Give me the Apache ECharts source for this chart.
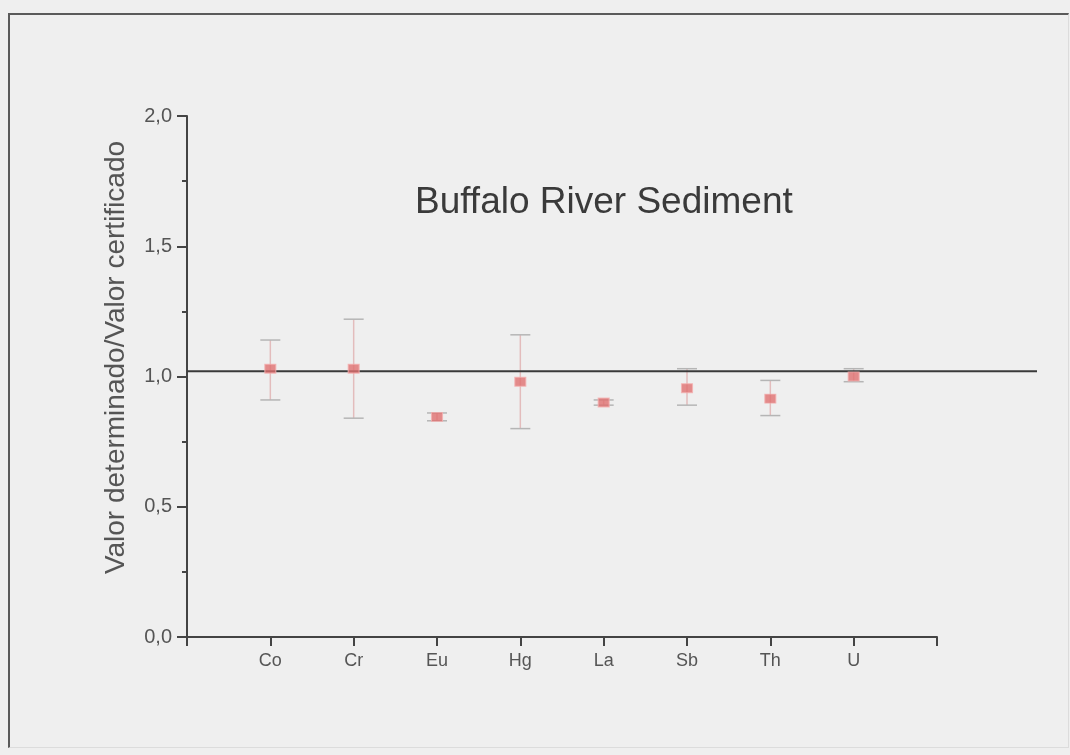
<!DOCTYPE html>
<html>
<head>
<meta charset="utf-8">
<script src="https://cdn.jsdelivr.net/npm/echarts@6/dist/echarts.min.js"></script>
<style>
  html, body { margin: 0; padding: 0; background: #efefef; }
  #chart { width: 1070px; height: 755px; }
  #frame {
    position: absolute; left: 8px; top: 13px; width: 1058px; height: 732px;
    border-top: 2px solid #5a5a5a; border-left: 2px solid #5a5a5a;
    border-right: 1px solid #dcdcdc; border-bottom: 1px solid #dcdcdc;
    pointer-events: none;
  }
</style>
</head>
<body>
<div id="chart"></div>
<div id="frame"></div>
<script>
// element labels on the x axis (positions 1..8)
const categories = ['Co', 'Cr', 'Eu', 'Hg', 'La', 'Sb', 'Th', 'U'];
// determined / certified value
const ratio = [1.03, 1.03, 0.845, 0.98, 0.90, 0.955, 0.915, 1.00];
// error bar ends
const lower = [0.91, 0.84, 0.83, 0.80, 0.89, 0.89, 0.85, 0.98];
const upper = [1.14, 1.22, 0.86, 1.16, 0.91, 1.03, 0.985, 1.03];
// horizontal reference line
const refLine = 1.02;
const yTicks = [0, 0.5, 1.0, 1.5, 2.0];

const chart = echarts.init(document.getElementById('chart'), null, { renderer: 'canvas' });

const points = ratio.map((v, i) => [i + 1, v]);
const bars = ratio.map((v, i) => [i + 1, lower[i], upper[i]]);

function fmtComma(v) {
    return v.toFixed(1).replace('.', ',');
}

const option = {
    backgroundColor: '#efefef',
    animation: false,
    textStyle: { fontFamily: 'Liberation Sans, Arial, sans-serif' },
    title: {
        text: 'Buffalo River Sediment',
        left: 410,
        top: 179,
        textStyle: { fontSize: 37, fontWeight: 'normal', color: '#3a3a3a' }
    },
    grid: [
        { left: 187, right: 133, top: 116, bottom: 118 },
        { left: 187, right: 33, top: 116, bottom: 118 }
    ],
    xAxis: [
        {
            type: 'value',
            gridIndex: 0,
            min: 0,
            max: 9,
            interval: 1,
            axisLine: { lineStyle: { color: '#444', width: 2 } },
            axisTick: { show: true, inside: false, length: 9, lineStyle: { color: '#444', width: 2 } },
            axisLabel: {
                margin: 15,
                fontSize: 18,
                color: '#555',
                formatter: v => categories[v - 1] || ''
            },
            splitLine: { show: false }
        },
        { type: 'value', gridIndex: 1, min: 0, max: 1, show: false }
    ],
    yAxis: [
        {
            type: 'value',
            gridIndex: 0,
            min: yTicks[0],
            max: yTicks[yTicks.length - 1],
            interval: 0.5,
            name: 'Valor determinado/Valor certificado',
            nameLocation: 'middle',
            nameGap: 57,
            nameTextStyle: { fontSize: 28, color: '#555', padding: [0, 0, 0, 38] },
            axisLine: { show: true, lineStyle: { color: '#444', width: 2 } },
            axisTick: { show: true, inside: false, length: 10, lineStyle: { color: '#444', width: 2 } },
            minorTick: { show: true, splitNumber: 2, length: 5, lineStyle: { color: '#444', width: 2 } },
            axisLabel: { margin: 15, fontSize: 20, color: '#555', formatter: fmtComma },
            splitLine: { show: false }
        },
        { type: 'value', gridIndex: 1, min: yTicks[0], max: yTicks[yTicks.length - 1], show: false }
    ],
    series: [
        {
            type: 'line',
            xAxisIndex: 1,
            yAxisIndex: 1,
            data: [[0, refLine], [1, refLine]],
            symbol: 'none',
            lineStyle: { color: '#3a3a3a', width: 2 },
            z: 3
        },
        {
            type: 'custom',
            xAxisIndex: 0,
            yAxisIndex: 0,
            data: bars,
            renderItem: function (params, api) {
                const x = api.value(0);
                const lo = api.coord([x, api.value(1)]);
                const hi = api.coord([x, api.value(2)]);
                const hw = 10;
                return {
                    type: 'group',
                    children: [
                        { type: 'line', shape: { x1: lo[0], y1: lo[1], x2: hi[0], y2: hi[1] },
                          style: { stroke: '#e3bcbc', lineWidth: 1.5 } },
                        { type: 'line', shape: { x1: lo[0] - hw, y1: lo[1], x2: lo[0] + hw, y2: lo[1] },
                          style: { stroke: '#b5b5b5', lineWidth: 1.5 } },
                        { type: 'line', shape: { x1: hi[0] - hw, y1: hi[1], x2: hi[0] + hw, y2: hi[1] },
                          style: { stroke: '#b5b5b5', lineWidth: 1.5 } }
                    ]
                };
            },
            z: 2
        },
        {
            type: 'scatter',
            xAxisIndex: 0,
            yAxisIndex: 0,
            data: points,
            symbol: 'rect',
            symbolSize: [11, 9],
            itemStyle: { color: '#e07070', borderColor: '#f4b0b0', borderWidth: 1 },
            z: 4
        }
    ]
};

chart.setOption(option);
</script>
</body>
</html>
